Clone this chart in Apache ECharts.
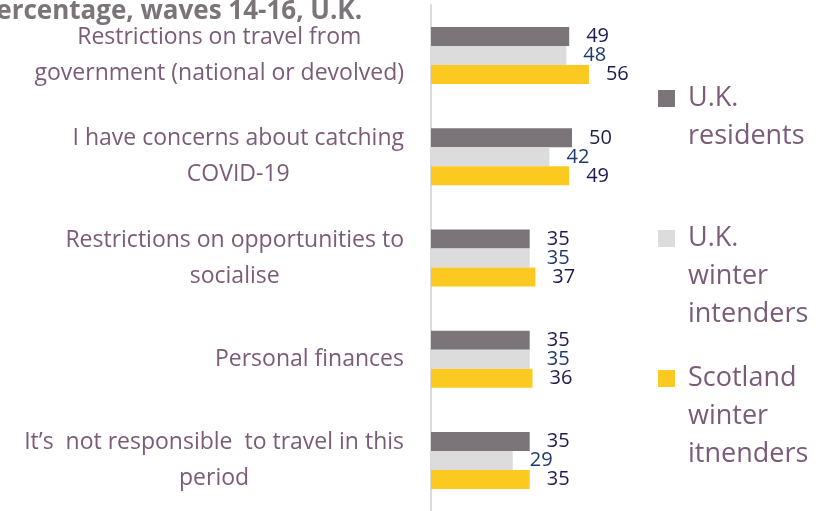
<!DOCTYPE html>
<html>
<head>
<meta charset="utf-8">
<script src="https://cdn.jsdelivr.net/npm/echarts@6/dist/echarts.min.js"></script>
<style>
  html, body { margin: 0; padding: 0; background: #fff; }
  #chart { width: 821px; height: 511px; }
</style>
</head>
<body>
<div id="chart"></div>
<script>
var categories = [
    'Restrictions on travel from\ngovernment (national or devolved)',
    'I have concerns about catching\nCOVID-19',
    'Restrictions on opportunities to\nsocialise',
    'Personal finances',
    'It\u2019s  not responsible  to travel in this\nperiod'
];
var ukResidents = [49, 50, 35, 35, 35];
var ukWinter = [48, 42, 35, 35, 29];
var scotWinter = [56, 49, 37, 36, 35];
var seriesNames = ['U.K.\nresidents', 'U.K.\nwinter\nintenders', 'Scotland\nwinter\nitnenders'];

var chart = echarts.init(document.getElementById('chart'));
var font = 'Open Sans';
var labelPurple = '#7a5c78';
var legendLine = 38;

function makeSeries(name, data, color, labelColor) {
    return {
        name: name,
        type: 'bar',
        data: data,
        barWidth: 19,
        barGap: '0%',
        itemStyle: { color: color },
        label: {
            show: true,
            position: 'right',
            distance: 17,
            color: labelColor,
            fontFamily: font,
            fontSize: 20
        },
        animation: false
    };
}

// legend text is centred on the icon, so pad with leading blank lines
// to make the first line sit next to the square
function makeLegend(name, iconTop) {
    var lines = name.split('\n').length;
    var total = 2 * lines - 1;
    return {
        data: [name],
        left: 658,
        top: iconTop - (total * legendLine / 2 - 8.5),
        padding: 0,
        orient: 'vertical',
        icon: 'rect',
        itemWidth: 17,
        itemHeight: 17,
        selectedMode: false,
        formatter: function (n) {
            return new Array(lines).join('\n') + n;
        },
        textStyle: {
            color: labelPurple,
            fontFamily: font,
            fontSize: 27,
            lineHeight: legendLine,
            padding: [0, 0, 0, 8]
        }
    };
}

chart.setOption({
    backgroundColor: '#ffffff',
    title: {
        text: 'Percentage, waves 14-16, U.K.',
        left: -20,
        top: -1,
        padding: 0,
        textStyle: {
            color: '#7b7478',
            fontFamily: font,
            fontWeight: 'bold',
            fontSize: 26
        }
    },
    legend: [
        makeLegend(seriesNames[0], 90),
        makeLegend(seriesNames[1], 230),
        makeLegend(seriesNames[2], 370)
    ],
    grid: {
        left: 431,
        top: 5,
        width: 282,
        height: 510,
        containLabel: false
    },
    xAxis: {
        type: 'value',
        min: 0,
        max: 100,
        show: false
    },
    yAxis: {
        type: 'category',
        data: categories,
        inverse: true,
        axisLine: { show: true, lineStyle: { color: '#e0d8df', width: 2 } },
        axisTick: { show: false },
        axisLabel: {
            margin: 27,
            align: 'right',
            formatter: function (v) {
                return v.split('\n').map(function (s) { return '{c|' + s + '}'; }).join('\n');
            },
            rich: {
                c: {
                    align: 'center',
                    color: labelPurple,
                    fontFamily: font,
                    fontSize: 23,
                    lineHeight: 36
                }
            }
        }
    },
    series: [
        makeSeries(seriesNames[0], ukResidents, '#7b7478', '#1f1a4f'),
        makeSeries(seriesNames[1], ukWinter, '#dcdcdc', '#1f3a6e'),
        makeSeries(seriesNames[2], scotWinter, '#fbc91f', '#1f1a4f')
    ]
});
</script>
</body>
</html>
